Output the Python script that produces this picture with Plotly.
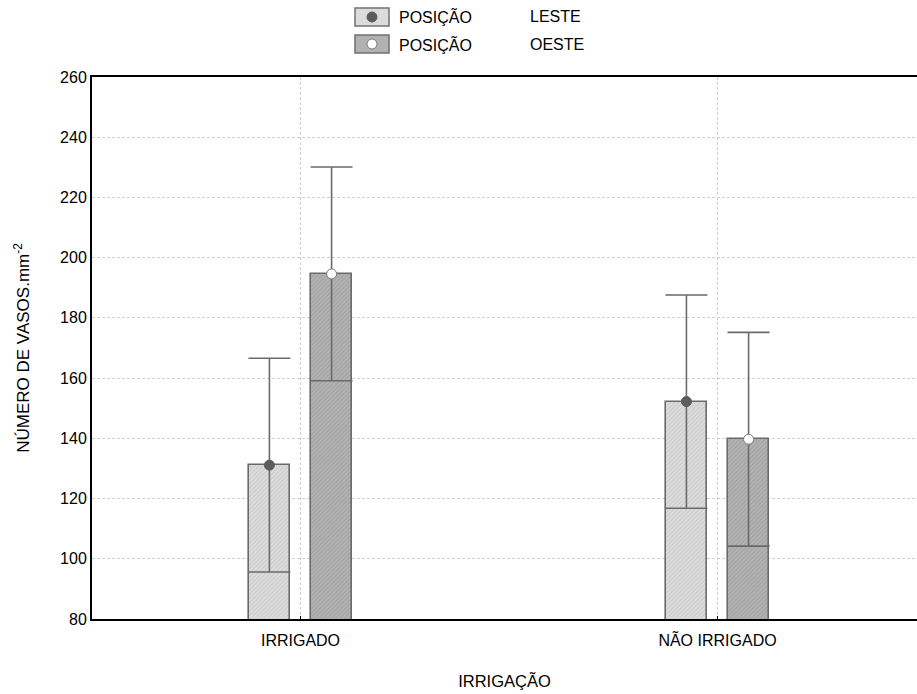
import plotly.graph_objects as go

categories = ["IRRIGADO", "NÃO IRRIGADO"]
series_names = ["LESTE", "OESTE"]
means_leste = [131.1, 152.2]
means_oeste = [194.6, 139.7]
err_leste = [35.5, 35.4]
err_oeste = [35.5, 35.5]
y_ticks = [80, 100, 120, 140, 160, 180, 200, 220, 240, 260]

W, H = 917, 694
ML, MR, MT, MB = 92, 0, 77, 75
PW, PH = W - ML - MR, H - MT - MB

def px(x):
    return (x - ML) / PW

def py(y):
    return (H - MB - y) / PH

edge = "#6a6a6a"
offset = 0.0745
bw = 0.1
idx = list(range(len(categories)))
FONT = "Liberation Sans, Arial, sans-serif"

fig = go.Figure()
specs = [
    (means_leste, err_leste, -offset, "#dcdcdc", "#bcbcbc", "#5c5c5c", "#5c5c5c"),
    (means_oeste, err_oeste, offset, "#b2b2b2", "#929292", "white", "#7a7a7a"),
]
for (m, e, off, bg, fg, mfill, mline), name in zip(specs, series_names):
    xs = [i + off for i in idx]
    fig.add_trace(go.Bar(
        x=xs, y=m, width=bw, name=name, showlegend=False,
        marker=dict(color=bg, line=dict(color=edge, width=1.6),
                    pattern=dict(shape="/", fgcolor=fg, bgcolor=bg, size=3, solidity=0.35)),
        error_y=dict(type="data", array=e, visible=True, color=edge, thickness=1.6, width=21),
    ))
    fig.add_trace(go.Scatter(
        x=xs, y=m, mode="markers", showlegend=False,
        marker=dict(size=10, color=mfill, line=dict(color=mline, width=1)),
    ))

fig.update_layout(
    width=W, height=H,
    margin=dict(l=ML, r=MR, t=MT, b=MB),
    paper_bgcolor="white", plot_bgcolor="white",
    font=dict(family=FONT, size=16, color="black"),
    bargap=0,
    xaxis=dict(
        range=[-0.5, -0.5 + PW / 417.0], tickvals=idx, ticktext=categories,
        tickfont=dict(family=FONT, size=16, color="black"),
        showgrid=True, gridcolor="#cfcfcf", griddash="3px,2px", gridwidth=1,
        showline=True, linecolor="black", linewidth=2, mirror=True,
        ticks="inside", ticklen=3, tickcolor="black", zeroline=False,
        ticklabelstandoff=6,
        title=dict(text="IRRIGAÇÃO", standoff=27, font=dict(family=FONT, size=16.5)),
    ),
    yaxis=dict(
        range=[80, 260], tickvals=y_ticks,
        tickfont=dict(family=FONT, size=16, color="black"),
        showgrid=True, gridcolor="#cfcfcf", griddash="3px,2px", gridwidth=1,
        showline=True, linecolor="black", linewidth=2, mirror=False,
        ticks="", zeroline=False,
        title=dict(text="NÚMERO DE VASOS.mm<sup>-2</sup>", standoff=26, font=dict(family=FONT, size=17)),
    ),
)

# manual legend
rows = [(17, "#dcdcdc", "#5c5c5c", "#5c5c5c", "LESTE"), (44, "#b2b2b2", "white", "#7a7a7a", "OESTE")]
for (cy, fill, mfill, mline, label) in rows:
    fig.add_shape(type="rect", xref="paper", yref="paper",
                  x0=px(355), x1=px(389), y0=py(cy - 9), y1=py(cy + 9),
                  fillcolor=fill, line=dict(color="#707070", width=1.5))
    fig.add_shape(type="circle", xref="paper", yref="paper",
                  x0=px(367), x1=px(377), y0=py(cy - 5), y1=py(cy + 5),
                  fillcolor=mfill, line=dict(color=mline, width=1))
    fig.add_annotation(xref="paper", yref="paper", x=px(397), y=py(cy),
                       text="POSIÇÃO", showarrow=False, xanchor="left", yanchor="middle",
                       font=dict(family=FONT, size=16))
    fig.add_annotation(xref="paper", yref="paper", x=px(528), y=py(cy),
                       text=label, showarrow=False, xanchor="left", yanchor="middle",
                       font=dict(family=FONT, size=16))

fig.write_html("out.html")
